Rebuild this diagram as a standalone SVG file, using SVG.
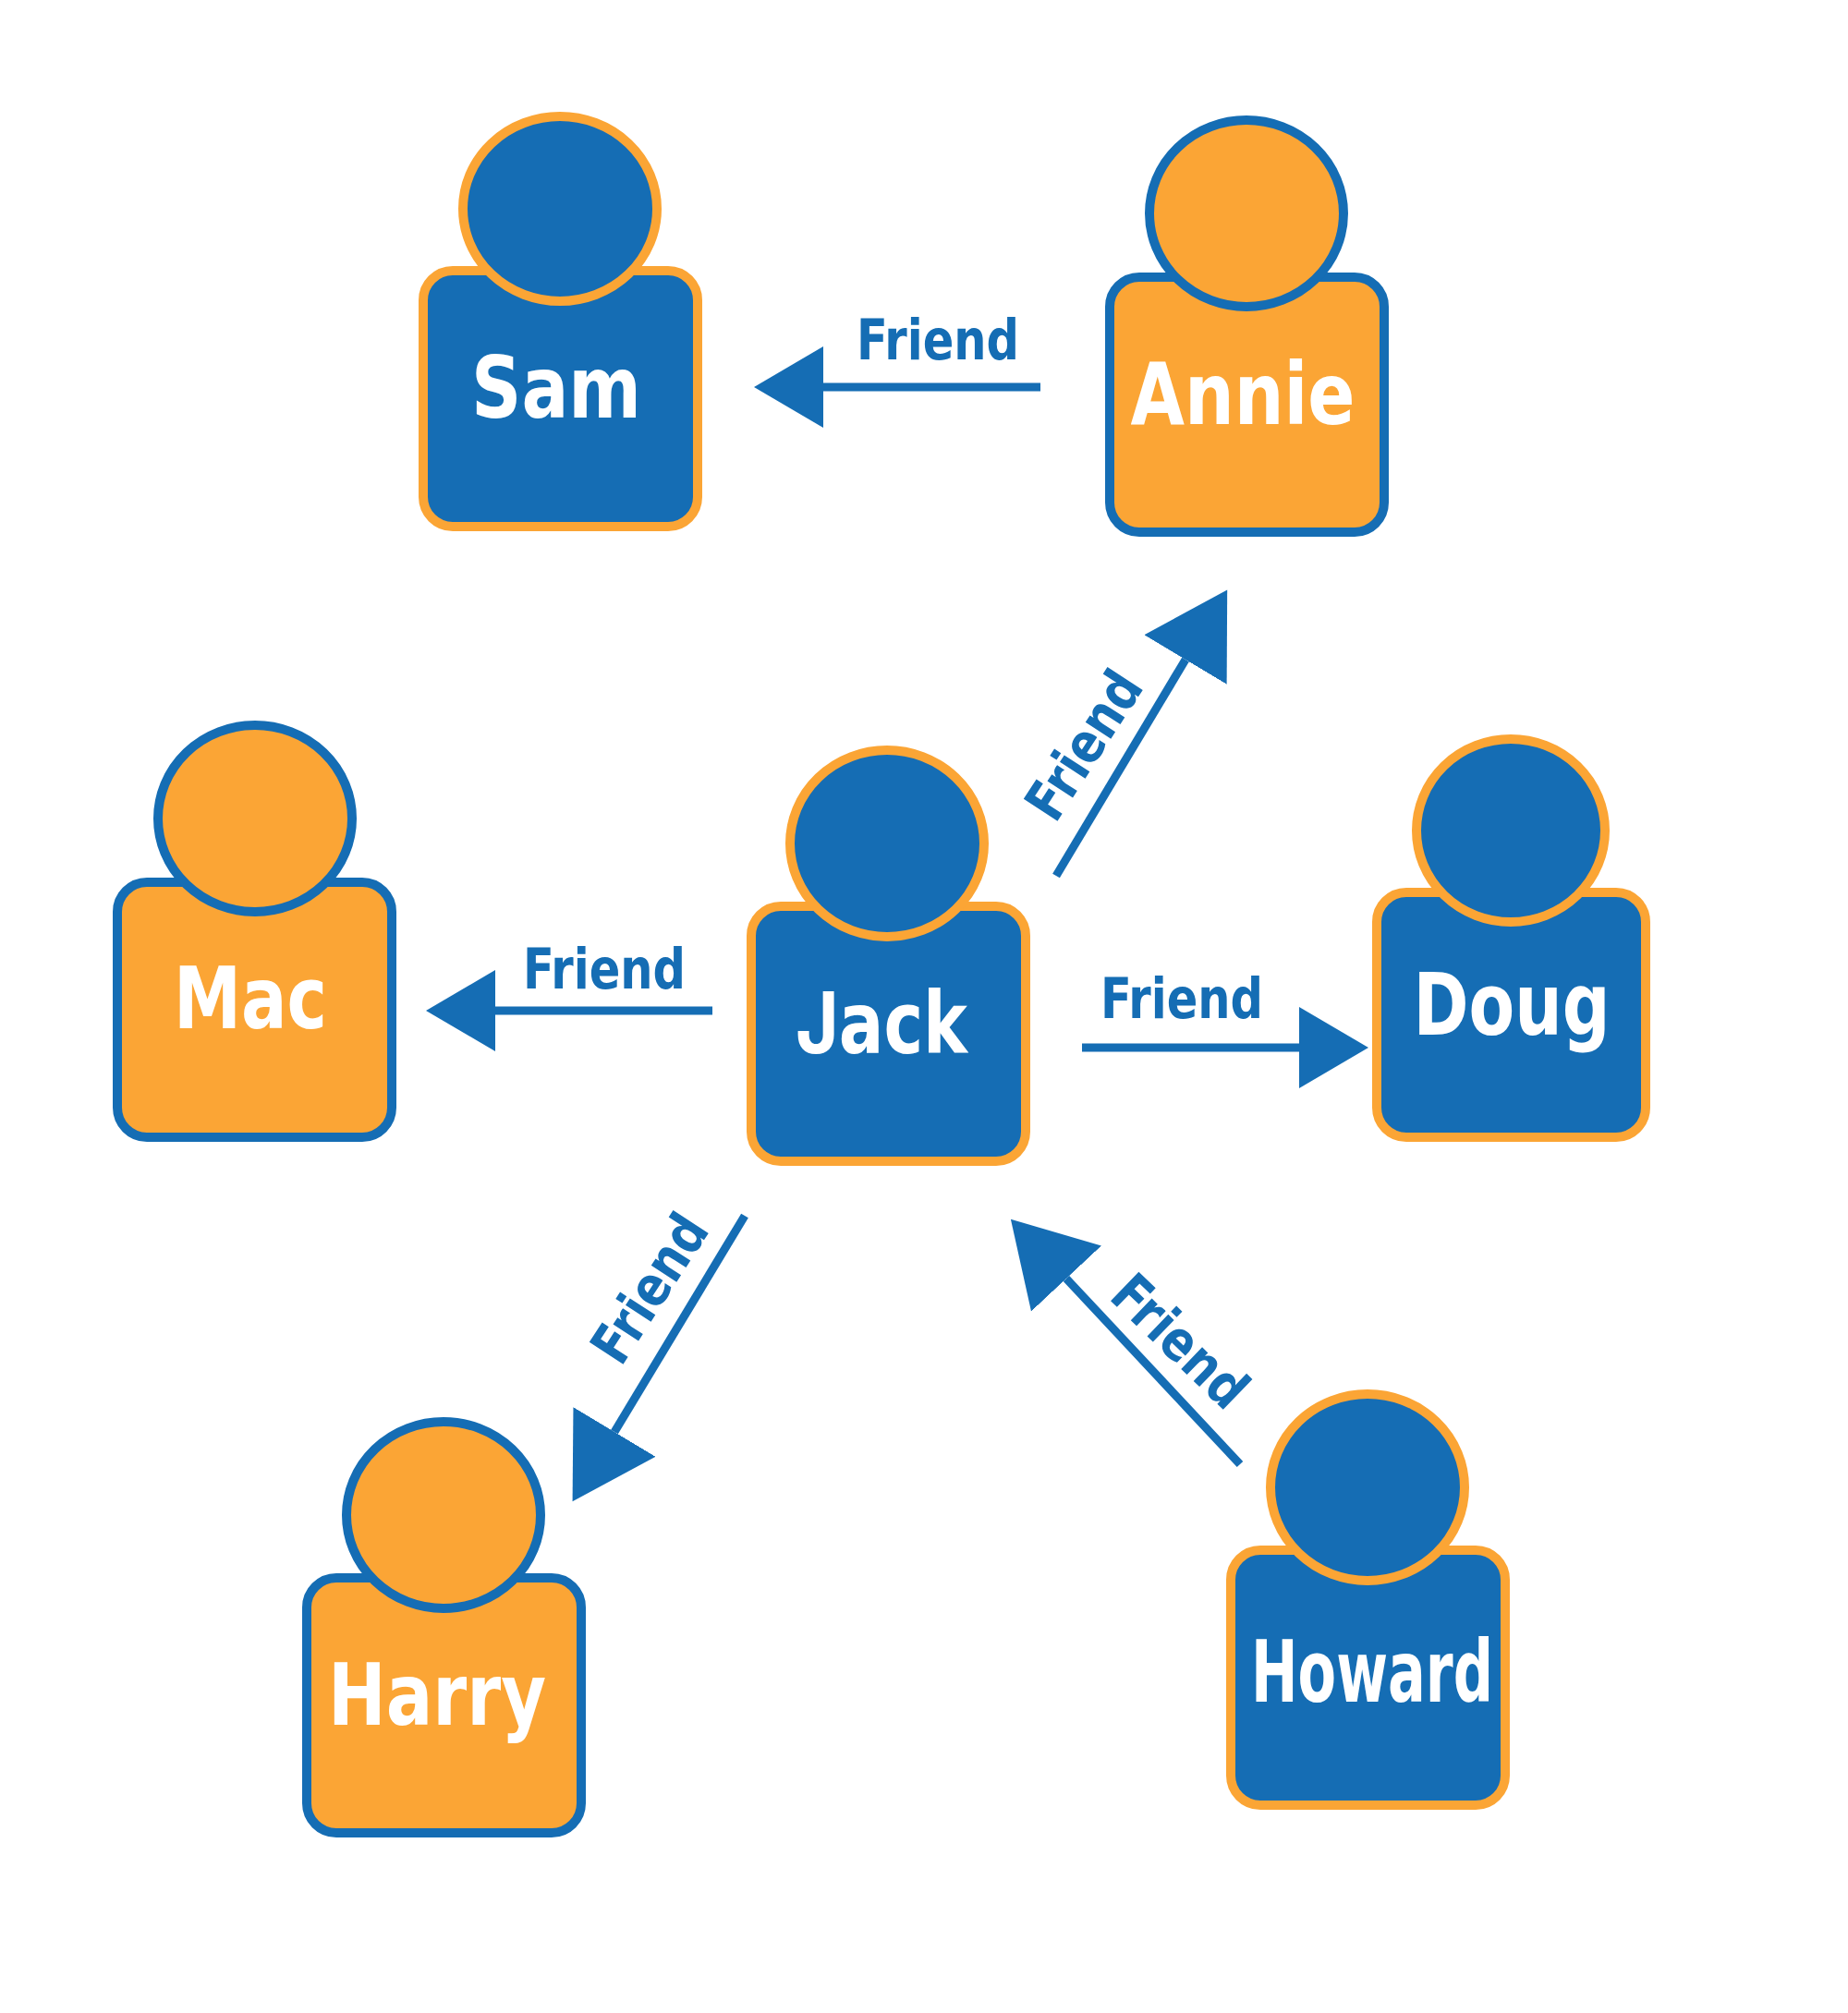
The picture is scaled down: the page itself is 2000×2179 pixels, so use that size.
<svg xmlns="http://www.w3.org/2000/svg" width="2000" height="2179" viewBox="0 0 2000 2179">
<style>
.a{fill:#156DB4;stroke:#FBA535;stroke-width:10}
.b{fill:#FBA535;stroke:#156DB4;stroke-width:10}
.n{font-family:"DejaVu Sans Condensed","DejaVu Sans",sans-serif;font-weight:700;font-size:92px;fill:#fff;text-anchor:middle}
.j{font-family:Inter,"DejaVu Sans",sans-serif}
.l{font-family:"DejaVu Sans Condensed","DejaVu Sans",sans-serif;font-weight:700;font-size:60px;fill:#156DB4;text-anchor:middle}
.c{stroke:#156DB4;stroke-width:9;fill:none}
</style>
<defs>
<marker id="h" markerUnits="userSpaceOnUse" markerWidth="76" markerHeight="90" refX="0" refY="45" orient="auto"><path d="M0 1L75 45L0 89Z" fill="#156DB4"/></marker>
<marker id="d" markerUnits="userSpaceOnUse" markerWidth="90" markerHeight="106" refX="0" refY="53" orient="auto"><path d="M0 1L88 53L0 105Z" fill="#156DB4"/></marker>
</defs>
<rect width="2000" height="2179" fill="#fff"/>
<g id="connectors">
<line class="c" x1="1126" y1="419" x2="891" y2="419" marker-end="url(#h)"/>
<line class="c" x1="771" y1="1094" x2="536" y2="1094" marker-end="url(#h)"/>
<line class="c" x1="1171" y1="1134" x2="1406" y2="1134" marker-end="url(#h)"/>
<line class="c" x1="1143" y1="948" x2="1283" y2="714" marker-end="url(#d)"/>
<line class="c" x1="806" y1="1316" x2="665" y2="1550" marker-end="url(#d)"/>
<line class="c" x1="1342" y1="1585" x2="1154" y2="1384" marker-end="url(#d)"/>
<text class="l" x="1015" y="389" textLength="176" lengthAdjust="spacingAndGlyphs">Friend</text>
<text class="l" x="654" y="1070" textLength="176" lengthAdjust="spacingAndGlyphs">Friend</text>
<text class="l" x="1279" y="1102" textLength="176" lengthAdjust="spacingAndGlyphs">Friend</text>
<text class="l" transform="translate(1172 806) rotate(-57)" x="0" y="22" textLength="178" lengthAdjust="spacingAndGlyphs">Friend</text>
<text class="l" transform="translate(702 1394) rotate(-57)" x="0" y="22" textLength="178" lengthAdjust="spacingAndGlyphs">Friend</text>
<text class="l" transform="translate(1278 1451) rotate(44)" x="0" y="22" textLength="178" lengthAdjust="spacingAndGlyphs">Friend</text>
</g>
<g id="sam"><rect class="a" x="458" y="293" width="297" height="277" rx="32"/><ellipse class="a" cx="606" cy="226" rx="105" ry="100"/><text class="n" x="602" y="452" textLength="184" lengthAdjust="spacingAndGlyphs">Sam</text></g>
<g id="annie"><rect class="b" x="1201" y="300" width="297" height="276" rx="32"/><ellipse class="b" cx="1349" cy="231" rx="105" ry="101"/><text class="n" x="1345" y="459" textLength="243" lengthAdjust="spacingAndGlyphs">Annie</text></g>
<g id="mac"><rect class="b" x="127" y="955" width="297" height="276" rx="32"/><ellipse class="b" cx="276" cy="886" rx="105" ry="101"/><text class="n" x="271" y="1113" textLength="166" lengthAdjust="spacingAndGlyphs">Mac</text></g>
<g id="jack"><rect class="a" x="813" y="981" width="297" height="276" rx="32"/><ellipse class="a" cx="960" cy="913" rx="105" ry="101"/><text class="n" x="954" y="1140" textLength="186" lengthAdjust="spacingAndGlyphs"><tspan class="j">J</tspan>ack</text></g>
<g id="doug"><rect class="a" x="1490" y="966" width="291" height="265" rx="32"/><ellipse class="a" cx="1635" cy="899" rx="102" ry="99"/><text class="n" x="1636" y="1120" textLength="213" lengthAdjust="spacingAndGlyphs">Doug</text></g>
<g id="harry"><rect class="b" x="332" y="1708" width="297" height="276" rx="32"/><ellipse class="b" cx="480" cy="1640" rx="105" ry="101"/><text class="n" x="473" y="1867" textLength="236" lengthAdjust="spacingAndGlyphs">Harry</text></g>
<g id="howard"><rect class="a" x="1332" y="1678" width="297" height="276" rx="32"/><ellipse class="a" cx="1480" cy="1610" rx="105" ry="101"/><text class="n" x="1485" y="1842" textLength="262" lengthAdjust="spacingAndGlyphs">Howard</text></g>
</svg>
